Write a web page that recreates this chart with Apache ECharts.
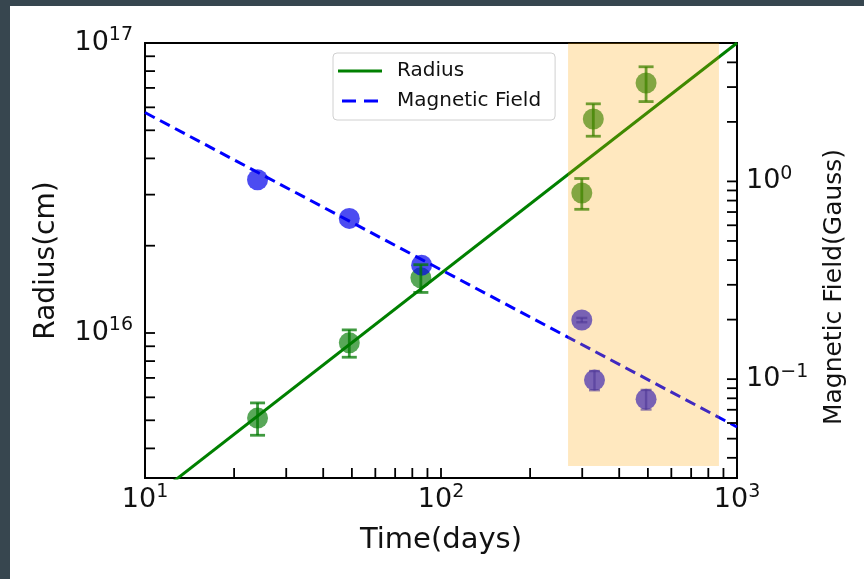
<!DOCTYPE html>
<html>
<head>
<meta charset="utf-8">
<script src="https://cdn.jsdelivr.net/npm/echarts@6/dist/echarts.min.js"></script>
<style>
html,body{margin:0;padding:0;background:#fff;}
#c{width:864px;height:579px;}
</style>
</head>
<body>
<div id="c"></div>
<script>
// ---- data ----
const radiusTimes = [24, 49, 85.5, 299, 327, 493];
const radiusValues = [5.09e15, 9.25e15, 1.55e16, 3.04e16, 5.47e16, 7.28e16];
const radiusErrors = [6.5e14, 1.0e15, 1.7e15, 3.7e15, 7.0e15, 1.0e16];

const fieldTimes = [24, 49, 86, 299, 330, 493];
const fieldValues = [1.02, 0.65, 0.377, 0.199, 0.0989, 0.0792];
const fieldErrors = [0, 0, 0, 0.005, 0.011, 0.009];

const radiusFitLine = [[10, 2.58e15], [1000, 1e17]];
const fieldFitLine = [[10, 2.23], [1000, 0.0573]];

const shadeTimeRange = [268.7, 869];
const shadeRadiusRange = [3.48e15, 1e17];

const xRange = [10, 1000];
const radiusRange = [3.1623e15, 1e17];
const fieldRange = [0.031623, 5.0119];

const xTicks = [10, 20, 30, 40, 50, 60, 70, 80, 90, 100, 200, 300, 400, 500, 600, 700, 800, 900, 1000];
const radiusTicks = [4e15, 5e15, 6e15, 7e15, 8e15, 9e15, 1e16, 2e16, 3e16, 4e16, 5e16, 6e16, 7e16, 8e16, 9e16, 1e17];
const fieldTicks = [0.04, 0.05, 0.06, 0.07, 0.08, 0.09, 0.1, 0.2, 0.3, 0.4, 0.5, 0.6, 0.7, 0.8, 0.9, 1, 2, 3, 4];

const labels = { x: 'Time(days)', yLeft: 'Radius(cm)', yRight: 'Magnetic Field(Gauss)', s1: 'Radius', s2: 'Magnetic Field' };

// ---- chart ----
const FONT = 'DejaVu Sans';
const chart = echarts.init(document.getElementById('c'), null, { renderer: 'canvas' });

function powLabel(v) {
  const e = Math.log10(v);
  const r = Math.round(e);
  if (Math.abs(e - r) > 1e-6) return '';
  const ex = r < 0 ? '\u2212' + (-r) : String(r);
  return '{b|10}{s|' + ex + '}';
}
const richLab = {
  b: { fontSize: 27, fontFamily: FONT, color: '#111' },
  s: { fontSize: 19, fontFamily: FONT, color: '#111', padding: [0, 0, 15, 0] }
};

function errRender(color, capW, lw) {
  return function (params, api) {
    const x = api.value(0), lo = api.value(1), hi = api.value(2);
    if (hi <= lo) return null;
    const p1 = api.coord([x, lo]);
    const p2 = api.coord([x, hi]);
    const st = { stroke: color, lineWidth: lw };
    return {
      type: 'group', children: [
        { type: 'line', shape: { x1: p1[0], y1: p1[1], x2: p2[0], y2: p2[1] }, style: st },
        { type: 'line', shape: { x1: p1[0] - capW / 2, y1: p1[1], x2: p1[0] + capW / 2, y2: p1[1] }, style: st },
        { type: 'line', shape: { x1: p2[0] - capW / 2, y1: p2[1], x2: p2[0] + capW / 2, y2: p2[1] }, style: st }
      ]
    };
  };
}

const TICK = 10;
const tickStyle = { stroke: '#000', lineWidth: 1.8 };

const option = {
  animation: false,
  backgroundColor: '#fff',
  graphic: [
    { type: 'rect', shape: { x: 0, y: 0, width: 864, height: 6 }, style: { fill: '#37464f' }, z: 100 },
    { type: 'rect', shape: { x: 0, y: 0, width: 10, height: 579 }, style: { fill: '#37464f' }, z: 100 }
  ],
  grid: { left: 145, top: 43, width: 592, height: 435, show: true, borderColor: '#000', borderWidth: 1.8, backgroundColor: 'transparent' },
  legend: {
    orient: 'vertical', left: 333, top: 53,
    data: [
      { name: labels.s1, icon: 'path://M0,0H44V3H0Z' },
      { name: labels.s2, icon: 'path://M0,0H14V3H0ZM22,0H36V3H22Z' }
    ],
    itemWidth: 44, itemHeight: 3, itemGap: 10,
    padding: [8, 14, 9, 5],
    borderColor: '#d0d0d0', borderWidth: 1, borderRadius: 4,
    backgroundColor: 'rgba(255,255,255,0.8)',
    textStyle: { fontFamily: FONT, fontSize: 20, color: '#111', padding: [0, 0, 0, 10] }
  },
  xAxis: {
    type: 'log', logBase: 10, min: xRange[0], max: xRange[1],
    axisLine: { show: true, lineStyle: { color: '#000', width: 1.8 } },
    axisTick: { show: false }, splitLine: { show: false },
    axisLabel: { formatter: powLabel, rich: richLab, margin: 5, showMinLabel: true, showMaxLabel: true },
    name: labels.x, nameLocation: 'middle', nameGap: 48,
    nameTextStyle: { fontFamily: FONT, fontSize: 29, color: '#111' }
  },
  yAxis: [
    {
      type: 'log', logBase: 10, min: radiusRange[0], max: radiusRange[1],
      axisLine: { show: true, lineStyle: { color: '#000', width: 1.8 } },
      axisTick: { show: false }, splitLine: { show: false },
      axisLabel: { formatter: powLabel, rich: richLab, margin: 12 },
      name: labels.yLeft, nameLocation: 'middle', nameGap: 84, nameRotate: 90,
      nameTextStyle: { fontFamily: FONT, fontSize: 28, color: '#111', verticalAlign: 'bottom' }
    },
    {
      type: 'log', logBase: 10, min: fieldRange[0], max: fieldRange[1], position: 'right',
      axisLine: { show: true, lineStyle: { color: '#000', width: 1.8 } },
      axisTick: { show: false }, splitLine: { show: false },
      axisLabel: { formatter: powLabel, rich: richLab, margin: 9 },
      name: labels.yRight, nameLocation: 'middle', nameGap: 85, nameRotate: 90,
      nameTextStyle: { fontFamily: FONT, fontSize: 25, color: '#111', verticalAlign: 'top', padding: [0, 53, 0, 0] }
    }
  ],
  series: [
    {
      name: labels.s1, type: 'line', data: radiusFitLine, yAxisIndex: 0,
      symbol: 'none', clip: true, z: 2,
      lineStyle: { color: '#008000', width: 3 }, itemStyle: { color: '#008000' }
    },
    {
      name: labels.s2, type: 'line', data: fieldFitLine, yAxisIndex: 1,
      symbol: 'none', clip: true, z: 2,
      lineStyle: { color: '#0000ff', width: 3, type: [11, 6] }, itemStyle: { color: '#0000ff' }
    },
    {
      type: 'scatter', yAxisIndex: 0, z: 3, symbolSize: 21,
      data: radiusTimes.map((t, i) => [t, radiusValues[i]]),
      itemStyle: { color: 'rgba(0,120,0,0.82)' }
    },
    {
      type: 'custom', yAxisIndex: 0, z: 4,
      data: radiusTimes.map((t, i) => [t, radiusValues[i] - radiusErrors[i], radiusValues[i] + radiusErrors[i]]),
      renderItem: errRender('rgba(0,120,0,0.75)', 15, 2.8)
    },
    {
      type: 'scatter', yAxisIndex: 1, z: 3, symbolSize: 21,
      data: fieldTimes.map((t, i) => [t, fieldValues[i]]),
      itemStyle: { color: 'rgba(0,0,235,0.88)' }
    },
    {
      type: 'custom', yAxisIndex: 1, z: 4,
      data: fieldTimes.map((t, i) => [t, fieldValues[i] - fieldErrors[i], fieldValues[i] + fieldErrors[i]]),
      renderItem: errRender('rgba(20,20,200,0.6)', 11, 2.4)
    },
    {
      type: 'custom', yAxisIndex: 0, z: 5, silent: true,
      data: [[shadeTimeRange[0], shadeTimeRange[1], shadeRadiusRange[0], shadeRadiusRange[1]]],
      renderItem: function (params, api) {
        const a = api.coord([api.value(0), api.value(3)]);
        const b = api.coord([api.value(1), api.value(2)]);
        return { type: 'rect', shape: { x: a[0], y: a[1], width: b[0] - a[0], height: b[1] - a[1] }, style: { fill: 'rgba(255,165,0,0.25)' } };
      }
    },
    {
      type: 'custom', yAxisIndex: 0, z: 6, silent: true,
      data: xTicks.map(v => [v, 1e16]),
      renderItem: function (params, api) {
        const x = api.coord([api.value(0), api.value(1)])[0];
        const yb = params.coordSys.y + params.coordSys.height;
        return { type: 'line', shape: { x1: x, y1: yb, x2: x, y2: yb - TICK }, style: tickStyle };
      }
    },
    {
      type: 'custom', yAxisIndex: 0, z: 6, silent: true,
      data: radiusTicks.map(v => [100, v]),
      renderItem: function (params, api) {
        const y = api.coord([api.value(0), api.value(1)])[1];
        const xl = params.coordSys.x;
        return { type: 'line', shape: { x1: xl, y1: y, x2: xl + TICK, y2: y }, style: tickStyle };
      }
    },
    {
      type: 'custom', yAxisIndex: 1, z: 6, silent: true,
      data: fieldTicks.map(v => [100, v]),
      renderItem: function (params, api) {
        const y = api.coord([api.value(0), api.value(1)])[1];
        const xr = params.coordSys.x + params.coordSys.width;
        return { type: 'line', shape: { x1: xr, y1: y, x2: xr - TICK, y2: y }, style: tickStyle };
      }
    }
  ]
};
chart.setOption(option);
</script>
</body>
</html>
